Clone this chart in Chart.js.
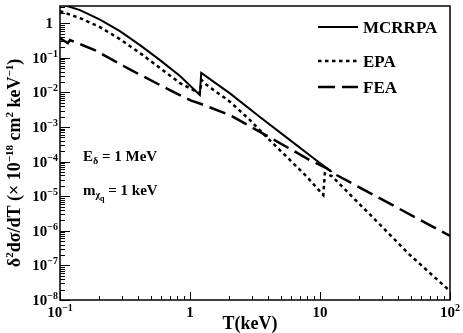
<!DOCTYPE html>
<html>
<head>
<meta charset="UTF-8">
<title>Differential cross section vs T</title>
<script src="https://cdn.jsdelivr.net/npm/chart.js"></script>
<style>
  body { margin: 0; background: #fff; }
  #wrap { width: 463px; height: 333px; }
</style>
</head>
<body>
<div id="wrap"><canvas id="chart" width="463" height="333"></canvas></div>
<script>
// values (T in keV, cross section in 1e-18 cm^2 keV^-1)
const tMcrrpa = [0.1, 0.1152, 0.1426, 0.203, 0.289, 0.4125, 0.588, 0.838, 1.19, 1.22, 2.03, 3.45, 5.88, 8.38, 11.3, 12.3];
const vMcrrpa = [3.6, 3.1, 2.41, 1.28, 0.596, 0.234, 0.0863, 0.0298, 0.0084, 0.037, 0.0094, 0.00195, 4.2e-4, 1.51e-4, 6.4e-5, 5.1e-5];

const tEpa = [0.1, 0.1426, 0.203, 0.289, 0.4125, 0.588, 0.838, 1.19, 1.23, 1.345, 2.03, 2.894, 4.1, 5.88, 7.9, 10.6, 10.9, 12.3, 24.3, 49.2, 100];
const vEpa = [2.25, 1.41, 0.776, 0.349, 0.138, 0.0507, 0.0187, 0.0094, 0.0228, 0.0164, 0.0054, 0.00159, 4.2e-4, 1.11e-4, 3.7e-5, 1.08e-5, 4.6e-5, 3.84e-5, 2.92e-6, 2.0e-7, 1.8e-8];

const tFea = [0.1, 0.115, 0.1194, 0.185, 0.353, 0.70, 1.02, 1.19, 2.03, 3.45, 8.38, 11.3, 13.4, 100];
const vFea = [0.37, 0.268, 0.327, 0.168, 0.044, 0.0117, 0.00583, 0.0048, 0.0022, 7.3e-4, 1.1e-4, 6.4e-5, 4.1e-5, 7.1e-7];

const seriesNames = ['MCRRPA', 'EPA', 'FEA'];
const xDecades = [-1, 0, 1, 2];
const yDecades = [-8, -7, -6, -5, -4, -3, -2, -1, 0];

const SERIF = '"Liberation Serif", "Times New Roman", serif';

function pts(ts, vs) { return ts.map((t, i) => ({ x: t, y: vs[i] })); }

// draw text made of pieces [text, sizeFactor, dy]
function drawRich(ctx, parts, x, y, size, align) {
  let total = 0;
  const widths = parts.map(p => {
    ctx.font = `bold ${Math.round(size * (p[1] || 1))}px ${SERIF}`;
    const w = ctx.measureText(p[0]).width;
    total += w;
    return w;
  });
  let cx = align === 'right' ? x - total : align === 'center' ? x - total / 2 : x;
  parts.forEach((p, i) => {
    ctx.font = `bold ${Math.round(size * (p[1] || 1))}px ${SERIF}`;
    ctx.fillText(p[0], cx, y + (p[2] || 0));
    cx += widths[i];
  });
}

function powLabel(e) {
  if (e === 0) return [['1', 1, 0]];
  if (e === 1) return [['10', 1, 0]];
  return [['10', 1, 0], [(e < 0 ? '\u2212' : '') + Math.abs(e), 0.65, -6]];
}

const datasets = [
  { label: seriesNames[0], data: pts(tMcrrpa, vMcrrpa), borderColor: '#000', borderWidth: 2, borderDash: [] },
  { label: seriesNames[1], data: pts(tEpa, vEpa), borderColor: '#000', borderWidth: 2.5, borderDash: [3.5, 3.5] },
  { label: seriesNames[2], data: pts(tFea, vFea), borderColor: '#000', borderWidth: 2.5, borderDash: [17, 7] }
];

const decor = {
  id: 'decor',
  afterDraw(chart) {
    const ctx = chart.ctx;
    const a = chart.chartArea;
    const xs = chart.scales.x, ys = chart.scales.y;
    ctx.save();
    ctx.strokeStyle = '#000';
    ctx.fillStyle = '#000';

    // frame
    ctx.lineWidth = 1.5;
    ctx.strokeRect(a.left, a.top, a.right - a.left, a.bottom - a.top);

    // ticks inside the frame
    ctx.lineWidth = 1;
    ctx.beginPath();
    for (let e = -1; e <= 2; e++) {
      for (let m = 1; m <= 9; m++) {
        const v = m * Math.pow(10, e);
        if (v > 100) break;
        const px = Math.round(xs.getPixelForValue(v)) + 0.5;
        const len = m === 1 ? 8 : 4;
        ctx.moveTo(px, a.bottom);
        ctx.lineTo(px, a.bottom - len);
      }
    }
    for (let e = -8; e <= 0; e++) {
      for (let m = 1; m <= 9; m++) {
        const v = m * Math.pow(10, e);
        if (v > ys.max) break;
        const py = Math.round(ys.getPixelForValue(v)) + 0.5;
        const len = m === 1 ? 10 : 5;
        ctx.moveTo(a.left, py);
        ctx.lineTo(a.left + len, py);
      }
    }
    ctx.stroke();

    // tick labels
    ctx.textBaseline = 'alphabetic';
    yDecades.forEach(e => {
      const py = ys.getPixelForValue(Math.pow(10, e));
      drawRich(ctx, powLabel(e), e === 0 ? 53 : 58, py + 5, 15, 'right');
    });
    xDecades.forEach(e => {
      const px = xs.getPixelForValue(Math.pow(10, e));
      drawRich(ctx, powLabel(e), px, 317, 15, 'center');
    });

    // axis titles
    drawRich(ctx, [['T(keV)', 1, 0]], 250, 329, 18, 'center');
    ctx.save();
    ctx.translate(20, 163);
    ctx.rotate(-Math.PI / 2);
    drawRich(ctx, [['\u03b4', 1, 0], ['2', 0.62, -7], ['d\u03c3/dT (\u00d7 10', 1, 0], ['\u221218', 0.62, -7],
      [' cm', 1, 0], ['2', 0.62, -7], [' keV', 1, 0], ['\u22121', 0.62, -7], [')', 1, 0]], 0, 0, 18, 'center');
    ctx.restore();

    // legend
    const legY = [27, 61, 87];
    chart.data.datasets.forEach((ds, i) => {
      ctx.save();
      ctx.lineWidth = ds.borderWidth;
      ctx.setLineDash(ds.borderDash);
      ctx.beginPath();
      ctx.moveTo(318, legY[i]);
      ctx.lineTo(358, legY[i]);
      ctx.stroke();
      ctx.restore();
      drawRich(ctx, [[ds.label, 1, 0]], 363, legY[i] + 6, 17, 'left');
    });

    // annotations
    drawRich(ctx, [['E', 1, 0], ['\u03b4', 0.65, 3], [' = 1 MeV', 1, 0]], 83, 161, 15, 'left');
    drawRich(ctx, [['m', 1, 0], ['\u03c7', 0.65, 3], ['q', 0.5, 6], [' = 1 keV', 1, 0]], 83, 195, 15, 'left');
    ctx.restore();
  }
};

new Chart(document.getElementById('chart'), {
  type: 'line',
  data: { datasets: datasets },
  options: {
    responsive: false,
    animation: false,
    events: [],
    layout: { padding: { left: 60, top: 6, right: 13, bottom: 33 } },
    elements: { point: { radius: 0 }, line: { tension: 0, fill: false } },
    plugins: { legend: { display: false }, tooltip: { enabled: false } },
    scales: {
      x: { type: 'logarithmic', min: 0.1, max: 100, display: false },
      y: { type: 'logarithmic', min: 1e-8, max: Math.pow(10, 0.5), display: false }
    }
  },
  plugins: [decor]
});
</script>
</body>
</html>
